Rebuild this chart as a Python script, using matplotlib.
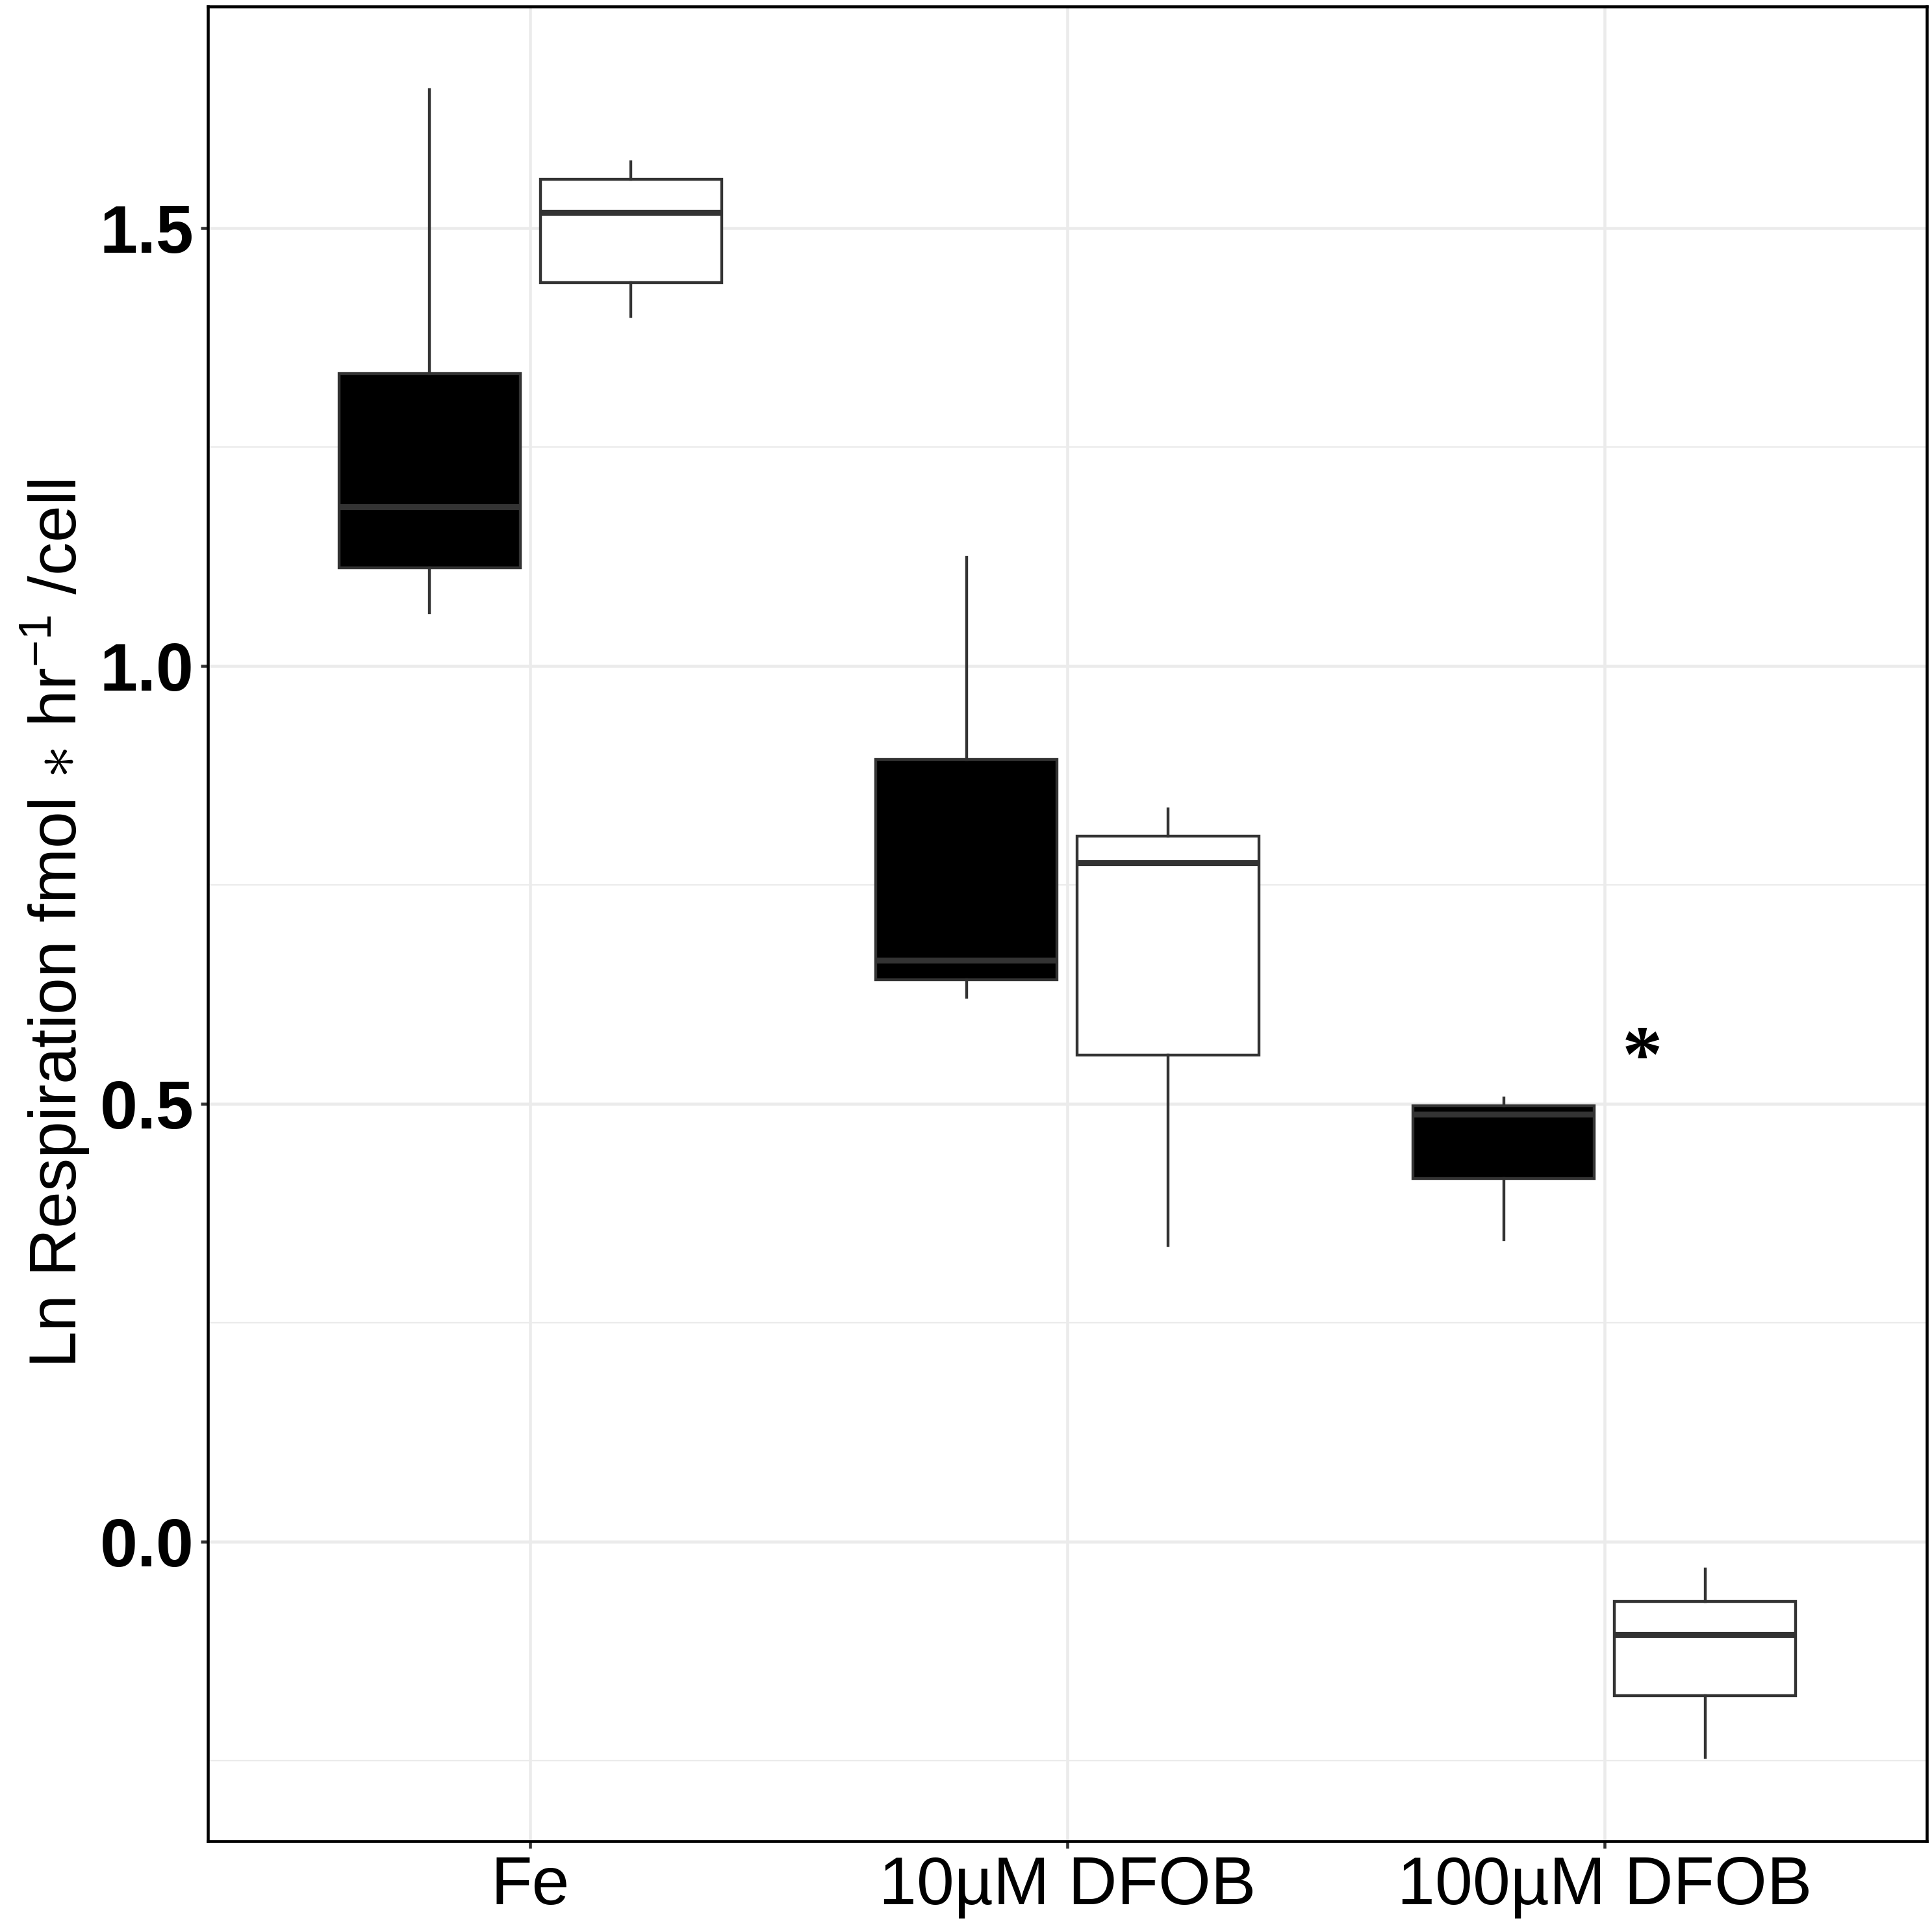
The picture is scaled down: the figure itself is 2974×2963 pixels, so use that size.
import matplotlib
matplotlib.use("Agg")
import matplotlib.pyplot as plt
from matplotlib.ticker import FixedLocator

# ==========================================
# DATA
# ==========================================

treatments = ["Fe", "10µM DFOB", "100µM DFOB"]

# dark (filled) group: whisker low, Q1, median, Q3, whisker high
dark_low = [1.061, 0.622, 0.345]
dark_q1 = [1.112, 0.642, 0.415]
dark_med = [1.182, 0.664, 0.488]
dark_q3 = [1.334, 0.893, 0.498]
dark_high = [1.658, 1.124, 0.507]

# open (white) group
open_low = [1.399, 0.338, -0.246]
open_q1 = [1.438, 0.556, -0.176]
open_med = [1.518, 0.775, -0.106]
open_q3 = [1.556, 0.806, -0.068]
open_high = [1.576, 0.837, -0.031]

# significance marker
star_x = 3.07
star_y = 0.548

y_major = [0.0, 0.5, 1.0, 1.5]
y_minor = [-0.25, 0.25, 0.75, 1.25]

# ==========================================
# STYLE
# ==========================================

plt.rcParams["font.family"] = ["Liberation Sans", "DejaVu Sans"]
plt.rcParams["mathtext.fontset"] = "custom"
plt.rcParams["mathtext.rm"] = "Liberation Sans"
plt.rcParams["mathtext.it"] = "Liberation Sans:italic"
plt.rcParams["mathtext.bf"] = "Liberation Sans:bold"

EDGE = "#333333"
GRID = "#EBEBEB"
LW = 1.05

fig = plt.figure(figsize=(2974 / 300, 2963 / 300), dpi=300)
ax = fig.add_axes([0.1076, 0.0435, 0.9973 - 0.1076, 0.9966 - 0.0435])

# ==========================================
# BOXES
# ==========================================

offset = 0.1875
box_w = 0.3375


def make_stats(low, q1, med, q3, high):
    stats = []
    for i in range(len(low)):
        stats.append({
            "whislo": low[i], "q1": q1[i], "med": med[i],
            "q3": q3[i], "whishi": high[i], "fliers": []
        })
    return stats


groups = [
    (make_stats(dark_low, dark_q1, dark_med, dark_q3, dark_high), -offset, "black"),
    (make_stats(open_low, open_q1, open_med, open_q3, open_high), offset, "white"),
]

for stats, shift, fill in groups:
    pos = [i + 1 + shift for i in range(len(stats))]
    ax.bxp(
        stats,
        positions=pos,
        widths=box_w,
        showfliers=False,
        showcaps=False,
        patch_artist=True,
        boxprops=dict(facecolor=fill, edgecolor=EDGE, linewidth=LW),
        whiskerprops=dict(color=EDGE, linewidth=LW),
        medianprops=dict(color=EDGE, linewidth=LW * 2.1, solid_capstyle="butt"),
        zorder=3,
    )

ax.text(star_x, star_y, "*", fontsize=30, fontweight="bold",
        family="Liberation Serif", ha="center", va="center", zorder=4)

# ==========================================
# AXES
# ==========================================

ax.set_xlim(0.4, 3.6)
ax.set_ylim(-0.342, 1.753)

ax.set_xticks([1, 2, 3])
ax.set_xticklabels(treatments, fontsize=25)
ax.set_yticks(y_major)
ax.set_yticklabels(["0.0", "0.5", "1.0", "1.5"], fontsize=25, fontweight="bold")
ax.yaxis.set_minor_locator(FixedLocator(y_minor))

ax.grid(True, which="major", color=GRID, linewidth=1.1, zorder=0)
ax.grid(True, which="minor", axis="y", color=GRID, linewidth=0.55, zorder=0)
ax.set_axisbelow(True)

ax.tick_params(axis="both", which="major", length=2.75, width=1.1,
               color=EDGE, pad=2.5, labelcolor="black")
ax.tick_params(axis="y", which="minor", length=0)

for side in ax.spines.values():
    side.set_color("black")
    side.set_linewidth(1.1)

ax.set_ylabel(r"Ln Respiration fmol $\ast$ hr$^{-1}$ /cell", fontsize=24.5, labelpad=3)

fig.savefig("out.png", dpi=300, facecolor="white")
